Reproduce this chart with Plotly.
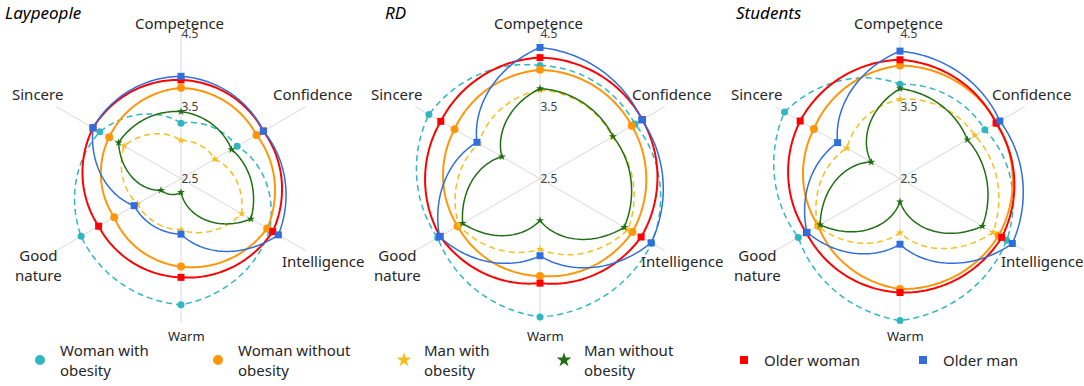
import numpy as np
import plotly.graph_objects as go

# ---------------- data ----------------
categories = ["Competence", "Confidence", "Intelligence", "Warm", "Good nature", "Sincere"]
category_labels = ["Competence", "Confidence", "Intelligence", "Warm", "Good<br>nature", "Sincere"]
panel_titles = ["Laypeople", "RD", "Students"]
series_names = ["Woman with<br>obesity", "Woman without<br>obesity", "Man with<br>obesity",
                "Man without<br>obesity", "Older woman", "Older man"]
radial_ticks = [2.5, 3.5, 4.5]

# Laypeople
lay_woman_obese = [3.27, 3.40, 3.92, 4.25, 4.10, 3.80]
lay_woman_nonobese = [3.76, 3.71, 3.88, 3.72, 3.57, 3.65]
lay_man_obese = [3.03, 3.04, 3.47, 3.21, 3.20, 3.41]
lay_man_nonobese = [3.43, 3.31, 3.62, 2.69, 2.82, 3.50]
lay_older_woman = [3.87, 3.82, 3.97, 3.87, 3.82, 3.91]
lay_older_man = [3.92, 3.82, 4.06, 3.27, 3.25, 3.91]

# RD
rd_woman_obese = [4.07, 4.02, 4.29, 4.42, 4.14, 4.28]
rd_woman_nonobese = [4.01, 3.97, 3.98, 3.85, 3.82, 3.87]
rd_man_obese = [3.73, 3.66, 3.91, 3.48, 3.80, 3.48]
rd_man_nonobese = [3.75, 3.67, 3.85, 3.08, 3.74, 3.11]
rd_older_woman = [4.18, 4.14, 4.12, 3.95, 4.10, 4.09]
rd_older_man = [4.32, 4.13, 4.28, 3.57, 4.11, 3.51]

# Students
st_woman_obese = [3.81, 3.86, 4.21, 4.47, 4.13, 4.35]
st_woman_nonobese = [4.07, 4.05, 4.08, 4.03, 3.81, 3.88]
st_man_obese = [3.60, 3.70, 3.99, 3.25, 3.82, 3.35]
st_man_nonobese = [3.75, 3.58, 3.82, 2.82, 3.78, 2.96]
st_older_woman = [4.15, 4.04, 4.13, 4.08, 4.00, 4.10]
st_older_man = [4.27, 4.10, 4.30, 3.41, 3.99, 3.50]

panels_data = [
    [lay_woman_obese, lay_woman_nonobese, lay_man_obese, lay_man_nonobese, lay_older_woman, lay_older_man],
    [rd_woman_obese, rd_woman_nonobese, rd_man_obese, rd_man_nonobese, rd_older_woman, rd_older_man],
    [st_woman_obese, st_woman_nonobese, st_man_obese, st_man_nonobese, st_older_woman, st_older_man],
]

# ---------------- styles ----------------
FONT = "Noto Sans"
TXT = "#262626"
colors = ["#2FB6C0", "#FF960A", "#F5BE1E", "#1F6E12", "#FF0000", "#2F6EDC"]
dashes = ["6px,4px", "solid", "6px,4px", "solid", "solid", "solid"]
widths = [1.5, 2, 1.5, 1.5, 2, 1.5]
symbols = ["circle", "circle", "star", "star", "square", "square"]
msizes = [7, 8, 6, 6, 7, 7]
legend_msizes = [10, 10, 11, 11, 8, 8]

W, H = 1084, 386
centers_x = [181, 540, 900]
center_y = 181
R = 146

angles = [i * 360 / len(categories) for i in range(len(categories))]


def polar_curve(vals, steps=40):
    """Line drawn in polar space: radius varies linearly with angle between spokes."""
    th, rr = [], []
    n = len(vals)
    for i in range(n):
        v0, v1 = vals[i], vals[(i + 1) % n]
        t = np.linspace(0, 1, steps, endpoint=False)
        th.extend(angles[i] + (360 / n) * t)
        rr.extend(v0 + (v1 - v0) * t)
    th.append(360)
    rr.append(vals[0])
    return rr, th


fig = go.Figure()

for p, pdata in enumerate(panels_data):
    sub = "polar" if p == 0 else f"polar{p + 1}"
    for s, vals in enumerate(pdata):
        rr, th = polar_curve(vals)
        fig.add_trace(go.Scatterpolar(
            r=rr, theta=th, mode="lines", subplot=sub, showlegend=False, hoverinfo="skip",
            line=dict(color=colors[s], width=widths[s], dash=dashes[s]),
        ))
        fig.add_trace(go.Scatterpolar(
            r=vals, theta=angles, mode="markers", subplot=sub, showlegend=False,
            name=series_names[s].replace("<br>", " "),
            marker=dict(color=colors[s], size=msizes[s], symbol=symbols[s], line=dict(width=0)),
        ))

# legend entries (one legend per item for exact placement)
legend_text_x = [60, 238, 424, 584, 764, 943]
for s, name in enumerate(series_names):
    lg = "legend" if s == 0 else f"legend{s + 1}"
    fig.add_trace(go.Scatterpolar(
        r=[None], theta=[None], mode="markers", subplot="polar", name=name, legend=lg,
        marker=dict(color=colors[s], size=legend_msizes[s], symbol=symbols[s], line=dict(width=0)),
    ))

layout = dict(
    width=W, height=H, margin=dict(l=0, r=0, t=0, b=0),
    paper_bgcolor="white", plot_bgcolor="white",
    font=dict(family=FONT, color=TXT),
    annotations=[],
)

for p in range(3):
    key = "polar" if p == 0 else f"polar{p + 1}"
    cx = centers_x[p]
    layout[key] = dict(
        domain=dict(x=[(cx - R) / W, (cx + R) / W],
                    y=[(H - center_y - R) / H, (H - center_y + R) / H]),
        bgcolor="white",
        radialaxis=dict(range=[2.5, 4.5], tickvals=radial_ticks, ticktext=[str(v) for v in radial_ticks],
                        showgrid=False, showline=False, ticks="", angle=90, side="clockwise",
                        tickangle=90,
                        tickfont=dict(family=FONT, size=12, color="#404040")),
        angularaxis=dict(type="linear", thetaunit="degrees", direction="clockwise", rotation=90,
                         tickvals=angles, showticklabels=False, ticks="", showline=False,
                         showgrid=True, gridcolor="#D9D9D9", gridwidth=1),
    )

# category labels (pixel offsets from each chart centre)
label_offsets = [(-2, -158), (131, -86), (142, 83), (5, 159), (-143, 87), (-144, -86)]
label_sizes = [15, 15, 15, 13, 15, 15]
for p in range(3):
    cx = centers_x[p]
    for c, lab in enumerate(category_labels):
        dx, dy = label_offsets[c]
        layout["annotations"].append(dict(
            x=(cx + dx) / W, y=(H - (center_y + dy)) / H, xref="paper", yref="paper",
            text=lab, showarrow=False, xanchor="center", yanchor="middle",
            font=dict(family=FONT, size=label_sizes[c], color=TXT),
        ))

# panel titles
title_x = [3, 383, 734]
for p, t in enumerate(panel_titles):
    layout["annotations"].append(dict(
        x=title_x[p] / W, y=(H - 13) / H, xref="paper", yref="paper",
        text=f"<i>{t}</i>", showarrow=False, xanchor="left", yanchor="middle",
        font=dict(family=FONT, size=17, color="#000000"),
    ))

for s in range(6):
    lg = "legend" if s == 0 else f"legend{s + 1}"
    layout[lg] = dict(
        x=(legend_text_x[s] - 40) / W, y=(H - 365) / H, xanchor="left", yanchor="middle",
        orientation="h", bgcolor="rgba(0,0,0,0)", borderwidth=0, itemwidth=30,
        font=dict(family=FONT, size=15, color=TXT), valign="middle",
    )

fig.update_layout(**layout)
fig.write_html("out.html", config={"displayModeBar": False},
               post_script="document.body.style.margin='0';document.body.style.padding='0';")
